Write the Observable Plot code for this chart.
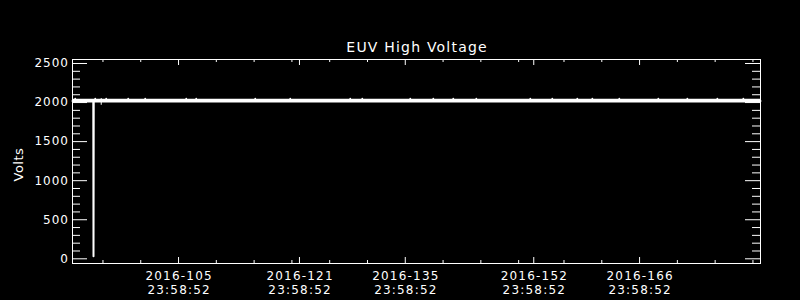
<!DOCTYPE html>
<html>
<head>
<meta charset="utf-8">
<script src="https://cdn.jsdelivr.net/npm/d3@7"></script>
<script src="https://cdn.jsdelivr.net/npm/@observablehq/plot@0.6"></script>
<style>
  html, body { margin: 0; padding: 0; background: #000; }
  #chart { width: 800px; height: 300px; overflow: hidden; }
</style>
</head>
<body>
<div id="chart"></div>
<script>
// ---- data ----
const titleText = "EUV High Voltage";
const yLabel = "Volts";

// x values are day-of-year 2016
const xMajorDays = [105, 121, 135, 152, 166];
const xTickLabels = ["2016-105\n23:58:52", "2016-121\n23:58:52", "2016-135\n23:58:52", "2016-152\n23:58:52", "2016-166\n23:58:52"];
const xMinorDays = [95, 100, 110, 115, 120, 125, 130, 140, 145, 150, 156, 161, 171, 176, 181];

const yMajorVals = [0, 500, 1000, 1500, 2000, 2500];
const yTickLabels = ["0", "500", "1000", "1500", "2000", "2500"];
const yMinorVals = [100, 200, 300, 400, 600, 700, 800, 900, 1100, 1200, 1300, 1400, 1600, 1700, 1800, 1900, 2100, 2200, 2300, 2400];

// main high-voltage trace (with the dropout near day 93.75)
const hvDays  = [90.97, 93.72, 93.75, 93.78, 182.0];
const hvVolts = [2020, 2020, 33, 2020, 2020];

// noise envelope of the trace
const envDays = [90.97, 182.0];
const envLow  = [1995, 1995];
const envHigh = [2042, 2042];

// small upward noise spikes
const spikeDays = [91.33, 93.98, 95.43, 98.34, 100.59, 106.02, 107.34, 115.15, 119.78, 127.72, 129.31, 135.66, 138.71, 141.35, 144.40, 151.54, 154.45, 157.76, 159.75, 163.32, 168.48, 172.32, 176.29, 179.73];
const spikeVolts = [2050, 2050, 2050, 2050, 2050, 2050, 2050, 2050, 2050, 2050, 2050, 2050, 2050, 2050, 2050, 2050, 2050, 2050, 2050, 2050, 2050, 2050, 2050, 2050];

// short glitch
const glitchDays = [94.77];
const glitchLow = [1965];
const glitchHigh = [2051];

const xDomain = [90.97, 182.0];
const yDomain = [-60, 2551];

// ---- layout ----
const W = 800, H = 300;
const mL = 72, mR = 40, mT = 59, mB = 37;
const fW = W - mL - mR, fH = H - mT - mB;
const font = "DejaVu Sans, sans-serif";

const hv = hvDays.map((d, i) => ({day: d, v: hvVolts[i]}));
const env = envDays.map((d, i) => ({day: d, lo: envLow[i], hi: envHigh[i]}));
const spikes = spikeDays.map((d, i) => ({day: d, v: spikeVolts[i]}));
const glitches = glitchDays.map((d, i) => ({day: d, lo: glitchLow[i], hi: glitchHigh[i]}));
const xTicks = xMajorDays.map((d, i) => ({day: d, label: xTickLabels[i]}));
const yTicks = yMajorVals.map((v, i) => ({v, label: yTickLabels[i]}));

const plot = Plot.plot({
  width: W, height: H,
  marginLeft: mL, marginRight: mR, marginTop: mT, marginBottom: mB,
  style: {background: "#000", color: "#fff", fontFamily: font},
  x: {domain: xDomain, axis: null},
  y: {domain: yDomain, axis: null},
  marks: [
    // data
    Plot.areaY(env, {x: "day", y1: "lo", y2: "hi", fill: "#fff", curve: "linear"}),
    Plot.line(hv, {x: "day", y: "v", stroke: "#fff", strokeWidth: 2}),
    Plot.ruleX(glitches, {x: "day", y1: "lo", y2: "hi", stroke: "#fff", strokeWidth: 1}),
    Plot.dot(spikes, {x: "day", y: "v", r: 0.9, fill: "#fff", stroke: null}),
    // frame
    Plot.frame({stroke: "#fff", strokeWidth: 1}),
    // x ticks bottom & top
    Plot.ruleX(xMajorDays, {stroke: "#fff", insetTop: fH - 6}),
    Plot.ruleX(xMajorDays, {stroke: "#fff", insetBottom: fH - 6}),
    Plot.ruleX(xMinorDays, {stroke: "#fff", insetTop: fH - 3}),
    Plot.ruleX(xMinorDays, {stroke: "#fff", insetBottom: fH - 3}),
    // y ticks left & right
    Plot.ruleY(yMajorVals, {stroke: "#fff", insetRight: fW - 15}),
    Plot.ruleY(yMajorVals, {stroke: "#fff", insetLeft: fW - 15}),
    Plot.ruleY(yMinorVals, {stroke: "#fff", insetRight: fW - 8}),
    Plot.ruleY(yMinorVals, {stroke: "#fff", insetLeft: fW - 8}),
    // tick labels (text group 0)
    Plot.text(xTicks, {x: "day", text: "label", frameAnchor: "bottom", lineAnchor: "top", dy: 6.5, dx: 0.6,
      lineHeight: 1.1667, fill: "#fff", fontSize: 12, fontFamily: font, textAnchor: "middle"}),
    // (text group 1)
    Plot.text(yTicks, {y: "v", text: "label", frameAnchor: "left", textAnchor: "end", dx: -3.5,
      fill: "#fff", fontSize: 12, fontFamily: font}),
    // title (text group 2) & axis label (text group 3)
    Plot.text([titleText], {frameAnchor: "top", lineAnchor: "bottom", dy: -7.6, dx: 0.6, fill: "#fff",
      fontSize: 14, fontFamily: font}),
    Plot.text([yLabel], {frameAnchor: "left", dx: -54, dy: 20, rotate: -90, fill: "#fff",
      fontSize: 13, fontFamily: font})
  ]
});

const textGroups = plot.querySelectorAll('g[aria-label="text"]');
const spacings = ["1.2px", "1px", "1.2px", "0.5px"];
textGroups.forEach((g, i) => {
  const v = spacings[i] || "0px";
  g.style.letterSpacing = v;
  g.querySelectorAll("text, tspan").forEach(t => t.style.letterSpacing = v);
});
document.getElementById("chart").appendChild(plot);
</script>
</body>
</html>
